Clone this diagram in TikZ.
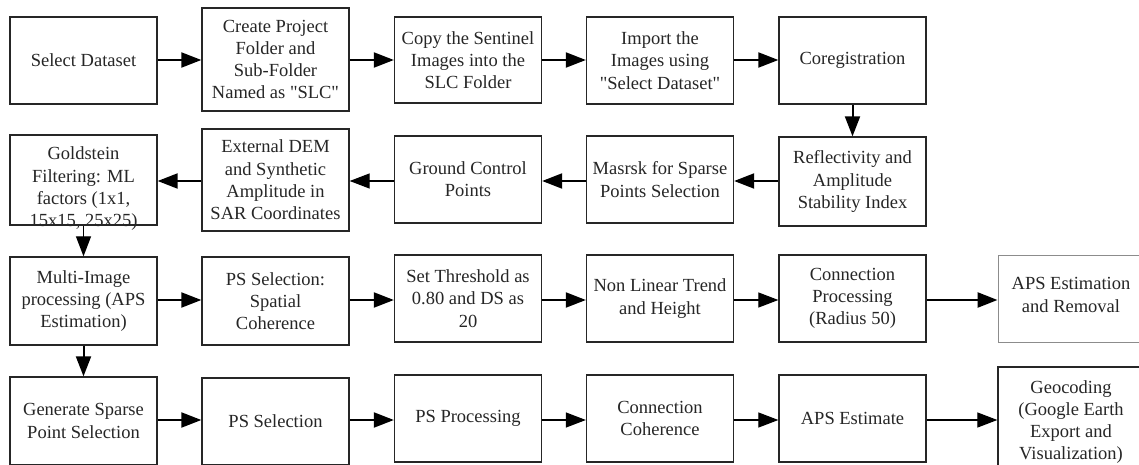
\documentclass[tikz,border=0pt]{standalone}
\usepackage{fontspec}
\setmainfont{Liberation Serif}[Ligatures=TeXOff]
\usetikzlibrary{arrows.meta}
\begin{document}
\begin{tikzpicture}[x=1pt,y=-1pt,
  txt/.style={font=\fontsize{18.5}{22.3}\selectfont, text=black!85, align=center},
  box/.style={txt, draw=black!85, line width=1.3pt, inner sep=1pt, minimum width=147pt},
  graybox/.style={box, draw=black!45, line width=1pt},
  arr/.style={line width=2pt, draw=black, -{Triangle[length=20pt,width=15pt]}},
  arrthin/.style={line width=1.2pt, draw=black, -{Triangle[length=20pt,width=15pt]}},
  arrthick/.style={line width=2.6pt, draw=black, -{Triangle[length=20pt,width=15pt]}}]
\fill[white] (0,0) rectangle (1139,465);
\useasboundingbox (0,0) rectangle (1139,465);
% row 1
\node[box, minimum height=87pt]  (n1) at (83.5,60.5) {Select Dataset};
\node[box, minimum height=103pt] (n2) at (275.5,59.5) {Create Project\\Folder and\\Sub-Folder\\Named as "SLC"};
\node[box, minimum height=86pt]  (n3) at (468,60) {Copy the Sentinel\\Images into the\\SLC Folder};
\node[box, minimum height=87pt]  (n4) at (660,60.5) {Import the\\Images using\\"Select Dataset"};
\node[box, minimum height=87pt]  (n5) at (852.5,60.5) {Coregistration};
% row 2
\node[box, minimum height=89pt]  (n6) at (852.5,181.5) {Reflectivity and\\Amplitude\\Stability Index};
\node[box, minimum height=87pt]  (n7) at (660,179.5) {Masrsk for Sparse\\Points Selection};
\node[box, minimum height=87pt]  (n8) at (468,179.5) {Ground Control\\Points};
\node[box, minimum height=102pt] (n9) at (275.5,180) {External DEM\\and Synthetic\\Amplitude in\\SAR Coordinates};
\node[box, minimum height=90pt] (n10) at (83.5,180) {};
\node[txt] at (83.5,189) {Goldstein\\Filtering: ML\\factors (1x1,\\15x15, 25x25)};
% row 3
\node[box, minimum height=88pt]  (n11) at (83.5,301) {Multi-Image\\processing (APS\\Estimation)};
\node[box, minimum height=88pt]  (n12) at (275.5,301) {PS Selection:\\Spatial\\Coherence};
\node[box, minimum height=87pt]  (n13) at (468,298.5) {Set Threshold as\\0.80 and DS as\\20};
\node[box, minimum height=87pt]  (n14) at (660,298.5) {Non Linear Trend\\and Height};
\node[box, minimum height=87pt]  (n15) at (852.5,298.5) {Connection\\Processing\\(Radius 50)};
\node[graybox, minimum width=152pt, minimum height=87pt] (n16) at (1074,298.5) {};
\node[txt] at (1071,295) {APS Estimation\\and Removal};
% row 4
\node[box, minimum height=88pt]  (n17) at (83.5,421) {Generate Sparse\\Point Selection};
\node[box, minimum height=87pt]  (n18) at (275.5,421.5) {PS Selection};
\node[box, minimum height=87pt]  (n19) at (468,418.5) {PS Processing};
\node[box, minimum height=87pt]  (n20) at (660,418.5) {Connection\\Coherence};
\node[box, minimum height=87pt]  (n21) at (852.5,418.5) {APS Estimate};
\node[box, minimum width=152pt, minimum height=108pt] (n22) at (1074,421) {};
\node[txt] at (1071,422) {Geocoding\\(Google Earth\\Export and\\Visualization)};
% connectors row 1
\draw[arr] (n1.east |- 0,60) -- (n2.west |- 0,60);
\draw[arr] (n2.east |- 0,60) -- (n3.west |- 0,60);
\draw[arr] (n3.east |- 0,60) -- (n4.west |- 0,60);
\draw[arr] (n4.east |- 0,60) -- (n5.west |- 0,60);
\draw[arr] (n5.south) -- (n6.north);
% row 2
\draw[arr] (n6.west |- 0,181) -- (n7.east |- 0,181);
\draw[arr] (n7.west |- 0,181) -- (n8.east |- 0,181);
\draw[arrthin] (n8.west |- 0,181) -- (n9.east |- 0,181);
\draw[arr] (n9.west |- 0,181) -- (n10.east |- 0,181);
\draw[arrthin] (n10.south) -- (n11.north);
% row 3
\draw[arr] (n11.east |- 0,300) -- (n12.west |- 0,300);
\draw[arr] (n12.east |- 0,300) -- (n13.west |- 0,300);
\draw[arr] (n13.east |- 0,300) -- (n14.west |- 0,300);
\draw[arrthin] (n14.east |- 0,300) -- (n15.west |- 0,300);
\draw[arrthick] (n15.east |- 0,300) -- (n16.west |- 0,300);
\draw[arr] (n11.south) -- (n17.north);
% row 4
\draw[arr] (n17.east |- 0,420) -- (n18.west |- 0,420);
\draw[arr] (n18.east |- 0,420) -- (n19.west |- 0,420);
\draw[arrthin] (n19.east |- 0,420) -- (n20.west |- 0,420);
\draw[arrthin] (n20.east |- 0,420) -- (n21.west |- 0,420);
\draw[arrthin] (n21.east |- 0,420) -- (n22.west |- 0,420);
\end{tikzpicture}
\end{document}
